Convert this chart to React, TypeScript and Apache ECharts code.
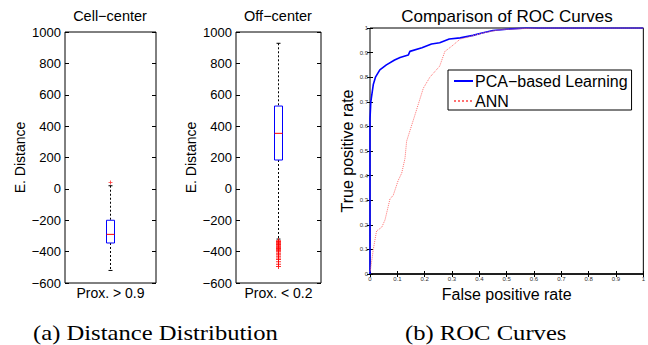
import React, { useEffect, useRef } from 'react';
import * as echarts from 'echarts';

const cellCategories = ['Prox. > 0.9'];
const offCategories = ['Prox. < 0.2'];
// [min, q1, median, q3, max]
const cellCenterBox = [-520, -345, -290, -200, 20];
const cellCenterOutliers = [40];
const offCenterBox = [-320, 184, 354, 528, 928];
const offCenterOutliers = [
  -330, -335, -340, -345, -350, -355, -360, -365, -370, -375, -380, -385, -390, -395, -400,
  -410, -420, -430, -440, -450, -465, -480, -495,
];
const pcaRoc: [number, number][] = [
  [0, 0], [0, 0.63], [0.003, 0.7], [0.012, 0.77], [0.02, 0.8], [0.036, 0.83], [0.06, 0.85],
  [0.09, 0.87], [0.11, 0.88], [0.14, 0.89], [0.146, 0.905], [0.19, 0.92], [0.225, 0.935],
  [0.255, 0.94], [0.29, 0.955], [0.33, 0.96], [0.377, 0.97], [0.41, 0.98], [0.45, 0.99],
  [0.5, 0.995], [0.57, 1], [1, 1],
];
const annRoc: [number, number][] = [
  [0, 0.01], [0.002, 0.018], [0.012, 0.1], [0.024, 0.175], [0.043, 0.19], [0.055, 0.22],
  [0.073, 0.305], [0.085, 0.32], [0.103, 0.38], [0.116, 0.41], [0.128, 0.47], [0.134, 0.54],
  [0.164, 0.645], [0.195, 0.755], [0.219, 0.8], [0.255, 0.845], [0.274, 0.905], [0.298, 0.925],
  [0.33, 0.955], [0.365, 0.965], [0.414, 0.98], [0.475, 0.993], [0.57, 0.998], [0.62, 1], [1, 1],
];

const SANS = 'Liberation Sans, Arial, Helvetica, sans-serif';
const SERIF = 'Liberation Serif, Times New Roman, serif';

const minus = (v: number | string) => String(v).replace('-', '\u2212');

const renderBox = (_params: any, api: any) => {
  const c = api.value(0);
  const pMin = api.coord([c, api.value(1)]);
  const pQ1 = api.coord([c, api.value(2)]);
  const pMed = api.coord([c, api.value(3)]);
  const pQ3 = api.coord([c, api.value(4)]);
  const pMax = api.coord([c, api.value(5)]);
  const x = pMed[0];
  const hw = 4;
  const dash = { stroke: '#000', lineWidth: 1, lineDash: [2, 2] };
  return {
    type: 'group',
    children: [
      { type: 'line', shape: { x1: x, y1: pMax[1], x2: x, y2: pQ3[1] }, style: dash },
      { type: 'line', shape: { x1: x, y1: pQ1[1], x2: x, y2: pMin[1] }, style: dash },
      { type: 'line', shape: { x1: x - 2, y1: pMax[1], x2: x + 2, y2: pMax[1] }, style: { stroke: '#000', lineWidth: 1 } },
      { type: 'line', shape: { x1: x - 2, y1: pMin[1], x2: x + 2, y2: pMin[1] }, style: { stroke: '#000', lineWidth: 1 } },
      {
        type: 'rect',
        shape: { x: x - hw, y: pQ3[1], width: hw * 2, height: pQ1[1] - pQ3[1] },
        style: { fill: '#fff', stroke: '#0000ff', lineWidth: 1 },
      },
      { type: 'line', shape: { x1: x - hw, y1: pMed[1], x2: x + hw, y2: pMed[1] }, style: { stroke: '#ff0000', lineWidth: 1 } },
    ],
  };
};

const PLUS = 'path://M4 0h2v4h4v2h-4v4h-2v-4h-4v-2h4z';

const boxYAxis = (grid: number, withLabel: boolean) => ({
  type: 'value',
  gridIndex: grid,
  position: withLabel ? 'left' : 'right',
  min: -600,
  max: 1000,
  interval: 200,
  axisLine: { show: false },
  axisTick: { show: true, inside: true, length: 4, lineStyle: { color: '#000' } },
  axisLabel: withLabel
    ? { show: true, fontSize: 13, color: '#000', fontFamily: SANS, margin: 4, formatter: (v: number) => minus(v) }
    : { show: false },
  splitLine: { show: false },
  name: withLabel ? 'E. Distance' : '',
  nameLocation: 'middle',
  nameGap: 38,
  nameTextStyle: { fontSize: 14, color: '#000', fontFamily: SANS },
});

const rocTicks = { show: true, inside: true, length: 3, lineStyle: { color: '#000' } };

export default function App() {
  const ref = useRef<HTMLDivElement>(null);
  useEffect(() => {
    if (!ref.current) return;
    const chart = echarts.init(ref.current, undefined, { renderer: 'svg' });
    const gridBase = { show: true, borderColor: '#000', borderWidth: 1, backgroundColor: '#fff', containLabel: false };
    chart.setOption({
      animation: false,
      backgroundColor: '#fff',
      grid: [
        { ...gridBase, left: 65, width: 91, top: 32, bottom: 62 },
        { ...gridBase, left: 236, width: 85, top: 32, bottom: 62 },
        { ...gridBase, left: 370, right: 4, top: 28, bottom: 71 },
      ],
      xAxis: [
        {
          type: 'category', gridIndex: 0, data: cellCategories, boundaryGap: true,
          axisLine: { show: false }, axisTick: { show: false },
          axisLabel: { fontSize: 14, color: '#000', fontFamily: SANS, margin: 3 },
        },
        {
          type: 'category', gridIndex: 1, data: offCategories, boundaryGap: true,
          axisLine: { show: false }, axisTick: { show: false },
          axisLabel: { fontSize: 14, color: '#000', fontFamily: SANS, margin: 3 },
        },
        {
          type: 'value', gridIndex: 2, min: 0, max: 1, interval: 0.1, position: 'bottom',
          axisLine: { show: true, lineStyle: { color: '#000', width: 1.5 } }, axisTick: rocTicks,
          axisLabel: { fontSize: 6, color: '#333', fontFamily: SANS, margin: 2 },
          splitLine: { show: false },
          name: 'False positive rate', nameLocation: 'middle', nameGap: 9,
          nameTextStyle: { fontSize: 16, color: '#000', fontFamily: SANS },
        },
        {
          type: 'value', gridIndex: 2, min: 0, max: 1, interval: 0.1, position: 'top',
          axisLine: { show: false }, axisTick: rocTicks, axisLabel: { show: false }, splitLine: { show: false },
        },
      ],
      yAxis: [
        boxYAxis(0, true),
        boxYAxis(0, false),
        boxYAxis(1, true),
        boxYAxis(1, false),
        {
          type: 'value', gridIndex: 2, min: 0, max: 1, interval: 0.1, position: 'left',
          axisLine: { show: false }, axisTick: rocTicks,
          axisLabel: { fontSize: 6, color: '#333', fontFamily: SANS, margin: 2 },
          splitLine: { show: false },
          name: 'True positive rate', nameLocation: 'middle', nameGap: 12,
          nameTextStyle: { fontSize: 16, color: '#000', fontFamily: SANS },
        },
        {
          type: 'value', gridIndex: 2, min: 0, max: 1, interval: 0.1, position: 'right',
          axisLine: { show: false }, axisTick: rocTicks, axisLabel: { show: false }, splitLine: { show: false },
        },
      ],
      legend: {
        left: 448, top: 70, orient: 'vertical',
        backgroundColor: '#fff', borderColor: '#000', borderWidth: 1, borderRadius: 0,
        padding: [3, 4, 1, 5], itemGap: 4, itemWidth: 19, itemHeight: 14,
        itemStyle: { opacity: 0 },
        textStyle: { fontSize: 16, color: '#000', fontFamily: SANS, padding: [0, 0, 0, -3] },
        data: ['PCA\u2212based Learning', 'ANN'],
      },
      graphic: [
        { type: 'text', x: 110, y: 16, style: { text: 'Cell\u2212center', font: `14.5px ${SANS}`, fill: '#000', textAlign: 'center', textVerticalAlign: 'middle' } },
        { type: 'text', x: 278, y: 16, style: { text: 'Off\u2212center', font: `14.5px ${SANS}`, fill: '#000', textAlign: 'center', textVerticalAlign: 'middle' } },
        { type: 'text', x: 507, y: 16, style: { text: 'Comparison of ROC Curves', font: `17px ${SANS}`, fill: '#000', textAlign: 'center', textVerticalAlign: 'middle' } },
        { type: 'text', x: 33, y: 332, scaleX: 1.12, style: { text: '(a) Distance Distribution', font: `22px ${SERIF}`, fill: '#000', textAlign: 'left', textVerticalAlign: 'middle' } },
        { type: 'text', x: 405, y: 332, scaleX: 1.12, style: { text: '(b) ROC Curves', font: `22px ${SERIF}`, fill: '#000', textAlign: 'left', textVerticalAlign: 'middle' } },
      ],
      series: [
        {
          type: 'custom', xAxisIndex: 0, yAxisIndex: 0, renderItem: renderBox,
          encode: { x: 0, y: [1, 2, 3, 4, 5] }, data: [[0, ...cellCenterBox]], silent: true,
        },
        {
          type: 'scatter', xAxisIndex: 0, yAxisIndex: 0, symbol: PLUS, symbolSize: 4,
          itemStyle: { color: '#ff0000' }, data: cellCenterOutliers.map((v) => [0, v]),
        },
        {
          type: 'custom', xAxisIndex: 1, yAxisIndex: 2, renderItem: renderBox,
          encode: { x: 0, y: [1, 2, 3, 4, 5] }, data: [[0, ...offCenterBox]], silent: true,
        },
        {
          type: 'scatter', xAxisIndex: 1, yAxisIndex: 2, symbol: PLUS, symbolSize: 5,
          itemStyle: { color: '#ff0000' }, data: offCenterOutliers.map((v) => [0, v]),
        },
        {
          name: 'PCA\u2212based Learning', type: 'line', xAxisIndex: 2, yAxisIndex: 4,
          symbol: 'none', data: pcaRoc, lineStyle: { color: '#0000ff', width: 1.6 }, itemStyle: { color: '#0000ff' },
        },
        {
          name: 'ANN', type: 'line', xAxisIndex: 2, yAxisIndex: 4,
          symbol: 'none', data: annRoc, lineStyle: { color: '#ff7070', width: 1, type: 'dotted' }, itemStyle: { color: '#ff7070' },
        },
      ],
    });
    return () => chart.dispose();
  }, []);
  return <div ref={ref} style={{ position: 'fixed', left: 0, top: 0, width: 648, height: 345 }} />;
}
